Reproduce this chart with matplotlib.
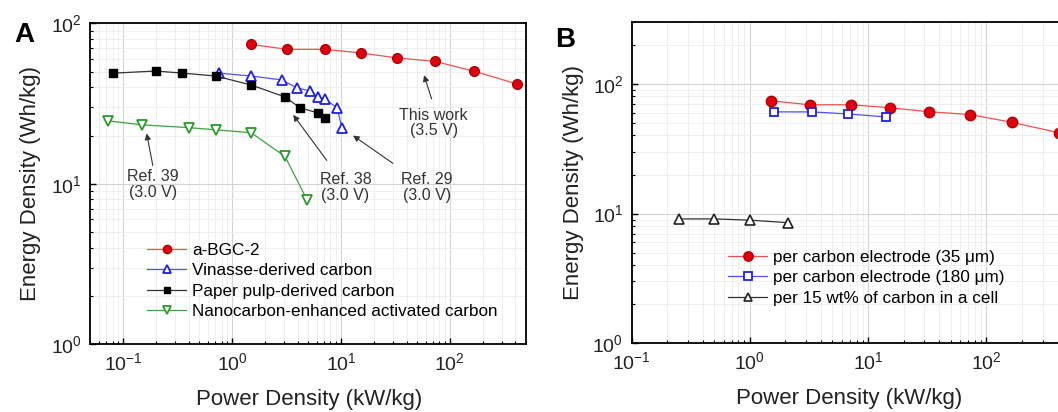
import matplotlib
matplotlib.use('Agg')
import matplotlib.pyplot as plt
from matplotlib.ticker import FixedLocator

plt.rcParams['font.family'] = ['Liberation Sans', 'DejaVu Sans']
plt.rcParams['mathtext.fontset'] = 'custom'
plt.rcParams['mathtext.rm'] = 'Liberation Sans'
plt.rcParams['mathtext.it'] = 'Liberation Sans:italic'
plt.rcParams['mathtext.bf'] = 'Liberation Sans:bold'
plt.rcParams['axes.unicode_minus'] = False

# panel A data (power density kW/kg, energy density Wh/kg)
bgc_x = [1.5, 3.2, 7.1, 15.2, 32.5, 73, 165, 410]
bgc_y = [74, 69, 69, 65.5, 61, 58, 50.5, 42]
vinasse_x = [0.76, 1.5, 2.87, 3.96, 5.2, 6.1, 7.1, 9.2, 10.2]
vinasse_y = [49, 47, 44.4, 39.6, 37.9, 34.8, 33.8, 29.8, 22.4]
pulp_x = [0.081, 0.2, 0.35, 0.71, 1.5, 3.06, 4.2, 6.1, 7.1]
pulp_y = [49, 50.5, 49, 47, 41.3, 34.8, 29.8, 27.7, 25.8]
nano_x = [0.072, 0.15, 0.40, 0.71, 1.5, 3.06, 4.9]
nano_y = [24.7, 23.3, 22.4, 21.7, 20.8, 14.8, 7.9]

# panel B data
thick_x = [1.61, 3.34, 6.8, 14.1]
thick_y = [60.8, 60.8, 58.6, 55.6]
cell_x = [0.25, 0.5, 1.0, 2.12]
cell_y = [9.1, 9.1, 8.9, 8.5]

labels_a = ['a-BGC-2', 'Vinasse-derived carbon', 'Paper pulp-derived carbon',
            'Nanocarbon-enhanced activated carbon']
labels_b = ['per carbon electrode (35 \u03bcm)', 'per carbon electrode (180 \u03bcm)',
            'per 15 wt% of carbon in a cell']

# text, text position, arrow tip, arrow tail
notes = [
    ('This work\n(3.5 V)', (71, 24), (58, 47.6), (68, 33.8), 'center'),
    ('Ref. 39\n(3.0 V)', (0.109, 9.86), (0.164, 20.6), (0.187, 13.0), 'left'),
    ('Ref. 38\n(3.0 V)', (6.36, 9.5), (3.64, 26.9), (7.4, 14.0), 'left'),
    ('Ref. 29\n(3.0 V)', (35.6, 9.5), (12.9, 20.0), (30, 13.4), 'left'),
]

red, blue, green = '#e00012', '#1f1fe6', '#2a9a2a'


def style(ax):
    ax.set_xscale('log')
    ax.set_yscale('log')
    ax.grid(which='major', color='#d4d4d4', lw=0.8)
    ax.grid(which='minor', color='#ececec', lw=0.6)
    ax.set_axisbelow(True)
    ax.tick_params(which='both', direction='in', top=False, right=False,
                   labelsize=14, pad=6, labelcolor='#222222')
    ax.tick_params(which='major', length=4, width=1)
    ax.tick_params(which='minor', length=2.5, width=0.8)
    for s in ax.spines.values():
        s.set_linewidth(1.3)
    ax.set_xlabel('Power Density (kW/kg)', fontsize=16, color='#222222')
    ax.set_ylabel('Energy Density (Wh/kg)', fontsize=16, color='#222222')


fig = plt.figure(figsize=(10.58, 4.12), dpi=100)
ax1 = fig.add_axes([0.0855, 0.165, 0.4116, 0.778])
ax2 = fig.add_axes([0.597, 0.1667, 0.447, 0.780])

ax1.plot(bgc_x, bgc_y, '-o', color='#ee5050', lw=0.9, mfc=red, mec='#b00000',
         ms=7, label=labels_a[0])
ax1.plot(vinasse_x, vinasse_y, '-^', color='#5050f0', lw=0.9, mfc='white',
         mec=blue, mew=1.3, ms=6.5, label=labels_a[1])
ax1.plot(pulp_x, pulp_y, '-s', color='#333333', lw=0.9, mfc='black',
         mec='black', ms=5.5, label=labels_a[2])
ax1.plot(nano_x, nano_y, '-v', color='#40a040', lw=0.9, mfc='white',
         mec=green, mew=1.3, ms=6.5, label=labels_a[3])

for txt, pos, tip, tail, ha in notes:
    ax1.text(pos[0], pos[1], txt, fontsize=11.5, color='#333333', ha=ha,
             va='center', multialignment='center', linespacing=1.05)
    ax1.annotate('', xy=tip, xytext=tail,
                 arrowprops=dict(arrowstyle='-|>', color='#333333', lw=0.8,
                                 mutation_scale=9, shrinkA=0, shrinkB=0))

ax1.set_xlim(0.05, 500)
ax1.set_ylim(1, 100)
style(ax1)
ax1.xaxis.set_label_coords(0.503, -0.14)
ax1.yaxis.set_label_coords(-0.114, 0.5)
ax1.legend(loc='lower left', bbox_to_anchor=(0.13, 0.078), frameon=False,
           fontsize=12.3, borderpad=0, borderaxespad=0, handlelength=2.3,
           handletextpad=0.35, labelspacing=0.32, markerscale=0.85)

ax2.plot(bgc_x, bgc_y, '-o', color='#ee5050', lw=0.9, mfc=red, mec='#b00000',
         ms=7.5, label=labels_b[0])
ax2.plot(thick_x, thick_y, '-s', color='#5050f0', lw=0.9, mfc='white',
         mec=blue, mew=1.3, ms=6, label=labels_b[1])
ax2.plot(cell_x, cell_y, '-^', color='#333333', lw=0.9, mfc='white',
         mec='#222222', mew=1.2, ms=7, label=labels_b[2])
ax2.set_xlim(0.1, 1000)
ax2.set_ylim(1, 300)
style(ax2)
ax2.xaxis.set_major_locator(FixedLocator([0.1, 1, 10, 100]))
ax2.xaxis.set_label_coords(0.46, -0.14)
ax2.yaxis.set_label_coords(-0.101, 0.5)
ax2.legend(loc='lower left', bbox_to_anchor=(0.204, 0.117), frameon=False,
           fontsize=12.3, borderpad=0, borderaxespad=0, handlelength=2.3,
           handletextpad=0.35, labelspacing=0.32, markerscale=0.9)

fig.text(14 / 1058, 1 - 42 / 412, 'A', fontsize=20, fontweight='bold',
         va='baseline')
fig.text(555 / 1058, 1 - 47 / 412, 'B', fontsize=20, fontweight='bold',
         va='baseline')

fig.savefig('out.png', dpi=100)
